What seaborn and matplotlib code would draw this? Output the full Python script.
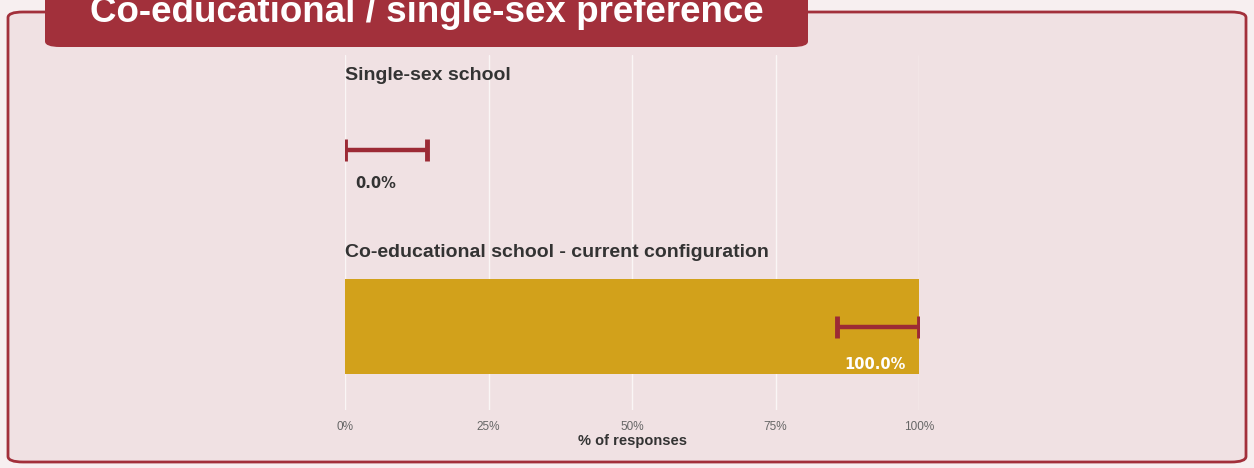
import numpy as np
import pandas as pd
import matplotlib.pyplot as plt
from matplotlib.patches import FancyBboxPatch
import seaborn as sns

# data
categories = ["Single-sex school", "Co-educational school - current configuration"]
pct = [0.0, 100.0]
ci_low = [0.0, 85.7]
ci_high = [14.3, 100.0]
ticks = [0, 25, 50, 75, 100]
tick_labels = ["0%", "25%", "50%", "75%", "100%"]

sns.set_style("white")
plt.rcParams['font.family'] = ['Liberation Sans', 'DejaVu Sans']

bg = "#f0e1e3"
red = "#a2303b"
gold = "#d2a11b"

fig = plt.figure(figsize=(12.54, 4.68), dpi=100, facecolor="#f7eff0")

# panel frame and title tab
frame = FancyBboxPatch((8 / 1254, 6 / 468), 1238 / 1254, 450 / 468,
                       boxstyle="round,pad=0,rounding_size=0.012",
                       transform=fig.transFigure, facecolor=bg,
                       edgecolor=red, linewidth=2, zorder=0)
fig.patches.append(frame)
tab = FancyBboxPatch((45 / 1254, 421 / 468), 763 / 1254, 70 / 468,
                     boxstyle="round,pad=0,rounding_size=0.012",
                     transform=fig.transFigure, facecolor=red,
                     edgecolor="none", zorder=1)
fig.patches.append(tab)
fig.text(427 / 1254, 1 - 12 / 468, "Co-educational / single-sex preference",
         color="white", fontsize=26.5, fontweight="bold", ha="center", va="center",
         zorder=2)

ax = fig.add_axes([345 / 1254, 1 - 410 / 468, 574 / 1254, 355 / 468])
ax.set_zorder(3)
ax.patch.set_alpha(0)

df = pd.DataFrame({"category": categories, "pct": pct})
sns.barplot(data=df, x="pct", y="category", orient="h", color=gold,
            width=0.537, saturation=1, linewidth=0, ax=ax, zorder=2)

ypos = np.arange(len(categories))
mid = (np.array(ci_low) + np.array(ci_high)) / 2
xerr = [mid - np.array(ci_low), np.array(ci_high) - mid]
ax.errorbar(mid, ypos, xerr=xerr, fmt="none", ecolor="#9c2a35",
            elinewidth=3.2, capsize=8, capthick=3.5, zorder=3)

for i, (cat, v) in enumerate(zip(categories, pct)):
    ax.text(0, i - 0.42, cat, fontsize=14, fontweight="bold",
            color="#333333", ha="left", va="center")
    if v > 10:
        ax.text(v - 2.3, i + 0.21, f"{v:.1f}%", fontsize=10.5, fontweight="bold",
                color="white", ha="right", va="center", family="DejaVu Sans")
    else:
        ax.text(v + 1.8, i + 0.19, f"{v:.1f}%", fontsize=10.5, fontweight="bold",
                color="#333333", ha="left", va="center", family="DejaVu Sans")

ax.set_xlim(0, 100)
ax.set_ylim(1.47, -0.537)
ax.set_yticks([])
ax.set_ylabel("")
ax.set_xticks(ticks)
ax.set_xticklabels(tick_labels, fontsize=8.5, color="#666666")
ax.tick_params(axis="x", length=0, pad=8)
ax.set_xlabel("% of responses", fontsize=10.5, fontweight="bold",
              color="#333333", labelpad=1)
ax.grid(axis="x", color="white", linewidth=1, alpha=0.7, zorder=0)
ax.set_axisbelow(True)
for s in ax.spines.values():
    s.set_visible(False)

fig.savefig("out.png", dpi=100, facecolor=fig.get_facecolor())
